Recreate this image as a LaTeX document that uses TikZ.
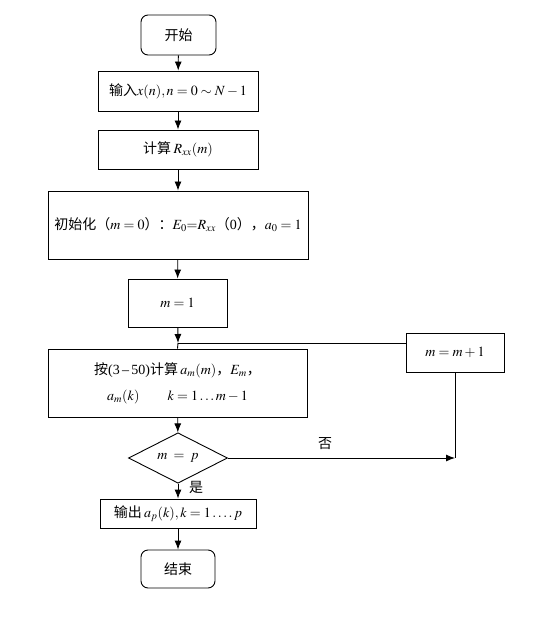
\documentclass[tikz,border=0pt]{standalone}
\usepackage{mathptmx}
\usepackage{fontspec}
\setmainfont{Liberation Serif}
\newfontfamily\cjk{Noto Sans CJK SC}
\usetikzlibrary{shapes.geometric,arrows.meta}

\begin{document}
\begin{tikzpicture}[x=1pt, y=-1pt, >={Latex[length=9pt,width=7pt]}, line width=0.9pt,
    font=\fontsize{14}{16}\selectfont,
    box/.style={draw, inner sep=0pt},
    term/.style={draw, rounded corners=7pt, inner sep=0pt}]
    \useasboundingbox (0,0) rectangle (554,617);

    % Boxes down the main column
    \node[term, minimum width=75pt, minimum height=40pt] (start) at (178.5,35) {\cjk 开始};
    \node[box, minimum width=160pt, minimum height=40pt] (input) at (178,91) {\cjk 输入$x(n), n=0\sim N-1$};
    \node[box, minimum width=160pt, minimum height=39pt] (rxx) at (178,149.5) {\cjk 计算\,$R_{xx}(m)$};
    \node[box, minimum width=260pt, minimum height=68pt] (init) at (178,225)
        {{\cjk 初始化（}$m=0${\cjk ）：}$E_0{=}R_{xx}${\cjk （}0{\cjk ），}$a_0=1$};
    \node[box, minimum width=99pt, minimum height=48pt] (mone) at (177.5,303) {$m=1$};
    \node[box, minimum width=259pt, minimum height=68pt, align=center] (calc) at (177.5,383)
        {{\cjk 按}(3\,--\,50){\cjk 计算}\,$a_m(m)${\cjk ，}$E_m${\cjk ，}\\[10pt]
         $a_m(k)\qquad k=1\ldots m-1$};
    \node[draw, diamond, inner sep=0pt, minimum width=99pt, minimum height=40pt] (test) at (178,458) {$m\;=\;p$};
    \node[box, minimum width=156pt, minimum height=29pt] (output) at (178,513.5) {\cjk 输出\,$a_p(k), k=1\ldots.\,p$};
    \node[term, minimum width=74pt, minimum height=38pt] (stop) at (178,569) {\cjk 结束};

    % Loop box
    \node[box, minimum width=98pt, minimum height=39pt] (next) at (455,352.5) {$m=m+1$};
    \coordinate (join) at (178,343);
    \coordinate (turn) at (next.south |- test.east);

    % Connectors
    \draw[->] (start) -- (input);
    \draw[->] (input) -- (rxx);
    \draw[->] (rxx) -- (init);
    \draw[->] (init) -- (mone);
    \draw[->] (mone) -- (join);
    \draw (join) -- (calc.north);
    \draw (next.west |- join) -- (join);
    \draw[->] (calc) -- (test);
    \draw[->] (test.east) -- (turn);
    \draw (next.south) -- (turn);
    \draw[->] (test) -- (output);
    \draw[->] (output) -- (stop);

    % Labels
    \node (no) at (325,444) {\cjk 否};
    \node (yes) at (196,487) {\cjk 是};
\end{tikzpicture}
\end{document}
